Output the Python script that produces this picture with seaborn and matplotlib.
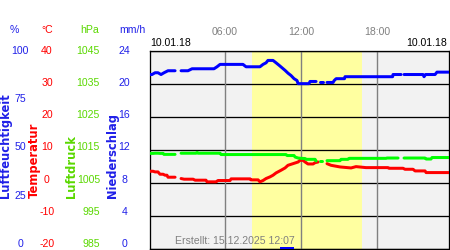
import numpy as np
import pandas as pd
import matplotlib
matplotlib.use("Agg")
import matplotlib.pyplot as plt
import seaborn as sns

# ---------------- data ----------------
nan = np.nan
hum_t = [0.10, 0.26, 0.50, 0.73, 0.97, 1.21, 1.52, 2.08, 2.30, 2.55, 3.10, 3.42, 4.05, 4.68, 5.15,
         5.39, 5.63, 6.42, 7.44, 7.68, 8.39, 8.78, 9.02, 9.26, 9.41, 9.81, 10.05, 10.28, 10.52,
         10.76, 10.99, 11.23, 11.47, 11.70, 11.79, 12.65, 12.73, 13.21, 13.35, 13.52, 13.76, 13.90,
         14.07, 14.55, 14.63, 14.79, 15.45, 15.49, 19.25, 19.28, 19.92, 20.05, 20.15, 21.65, 21.73,
         21.85, 22.60, 22.75, 23.70]
hum_v = [87.9, 87.9, 88.8, 88.8, 87.9, 88.8, 89.8, 89.8, nan, 89.8, 89.8, 90.8, 90.8, 90.8, 90.8,
         91.8, 93.0, 93.0, 93.0, 91.8, 91.8, 91.8, 93.0, 93.8, 95.0, 95.0, 93.8, 92.6, 91.3,
         90.0, 88.6, 87.4, 85.8, 84.9, 83.3, 83.3, 84.4, 84.4, nan, 83.9, 83.9, nan,
         83.9, 83.9, 84.8, 85.8, 85.8, 86.8, 86.8, 87.9, 87.9, nan, 87.9, 87.9, 86.8,
         87.9, 87.9, 89.1, 89.1]

temp_t = [0.10, 0.34, 0.50, 0.73, 0.89, 1.13, 1.29, 1.44, 1.52, 2.08, 2.30, 2.55, 2.79, 3.50, 3.66,
          4.52, 4.60, 5.31, 5.47, 6.42, 6.50, 8.00, 8.07, 8.63, 8.78, 9.02, 9.26, 9.57, 9.81, 10.05,
          10.44, 10.76, 10.99, 11.39, 11.79, 11.94, 12.18, 12.34, 12.57, 12.97, 13.13, 13.37, 13.70,
          14.07, 14.39, 15.10, 15.97, 16.36, 17.15, 18.89, 18.96, 20.07, 20.23, 20.86, 21.02, 21.81,
          21.89, 23.70]
temp_v = [3.5, 3.5, 3.3, 3.3, 2.6, 2.6, 2.3, 2.3, 1.7, 1.7, nan, 1.3, 1.1, 1.1, 0.8,
          0.8, 0.3, 0.3, 0.7, 0.7, 1.2, 1.2, 0.9, 0.9, 0.3, 0.7, 1.3, 1.8, 2.3, 3.0,
          3.8, 4.5, 5.3, 5.8, 6.3, 6.8, 6.8, 6.3, 5.7, 5.7, 6.1, 6.3, nan,
          5.8, 5.3, 4.8, 4.5, 4.9, 4.6, 4.6, 4.4, 4.4, 4.1, 4.1, 3.6, 3.6,
          3.1, 3.1]

pres_t = [0.10, 0.34, 0.50, 0.73, 0.89, 1.13, 1.20, 2.08, 2.30, 2.55, 3.74, 3.82, 3.90, 5.63, 5.71,
          10.84, 10.92, 11.47, 11.55, 11.79, 12.03, 12.34, 12.42, 13.13, 13.21, 13.40, 13.52, 13.68,
          13.85, 14.07, 15.10, 15.18, 15.73, 15.81, 18.73, 18.81, 19.68, 19.90, 20.15, 21.81, 21.89,
          22.28, 22.36, 23.70]
pres_v = [1013.9, 1013.9, 1013.95, 1013.95, 1013.9, 1013.9, 1013.6, 1013.6, nan, 1013.95, 1013.95,
          1014.2, 1013.95, 1013.95, 1013.55, 1013.55, 1013.25, 1013.25, 1012.8, 1012.5, 1012.4,
          1012.35, 1012.1, 1012.1, 1011.6, nan, 1011.6, 1011.6, nan, 1011.7, 1011.7, 1012.1,
          1012.1, 1012.4, 1012.4, 1012.5, 1012.5, nan, 1012.5, 1012.5, 1012.2, 1012.2, 1012.65,
          1012.65]

prec_t = [10.95]
prec_v = [0.2]

daylight = (8.15, 16.8)
time_ticks = [6, 12, 18]
time_labels = ["06:00", "12:00", "18:00"]
hum_ticks = [0, 25, 50, 75, 100]
temp_ticks = [-20, -10, 0, 10, 20, 30, 40]
pres_ticks = [985, 995, 1005, 1015, 1025, 1035, 1045]
prec_ticks = [0, 4, 8, 12, 16, 20, 24]
date_label = "10.01.18"
created = "Erstellt: 15.12.2025 12:07"


def frame(t, v):
    df = pd.DataFrame({"t": t, "v": v})
    df["seg"] = df["v"].isna().cumsum()
    return df.dropna()


BLUE = "#0000ff"
RED = "#ff0000"
GREEN = "#00ff00"
TXT_BLUE = "#2020e8"
TXT_GREEN = "#5ad800"
GRAY = "#808080"
PX = 0.72  # points per pixel at dpi 100

sns.set_style("white")
plt.rcParams["font.family"] = ["Liberation Sans", "DejaVu Sans"]
plt.rcParams["axes.unicode_minus"] = False
FS = 7.6

fig = plt.figure(figsize=(4.5, 2.5), dpi=100)
ax = fig.add_axes([150 / 450, 1 / 250, 299 / 450, 198.5 / 250])
ax.set_facecolor("#f2f2f2")
ax.axvspan(*daylight, color="#ffffa0", zorder=0, lw=0)
ax.set_xlim(0.1, 23.7)
ax.set_ylim(-20, 40)
ax.set_yticks(temp_ticks)
ax.grid(axis="y", color="black", lw=1.3 * PX)
for xv in time_ticks:
    ax.axvline(xv, color=GRAY, lw=1.4 * PX, zorder=1)
ax.set_xticks(time_ticks, time_labels)
ax.xaxis.set_ticks_position("top")
ax.tick_params(axis="x", length=0, pad=10, labelsize=FS, labelcolor=GRAY)
ax.tick_params(axis="y", length=0, labelleft=False)
for s in ax.spines.values():
    s.set_color("black")
    s.set_linewidth(1.3 * PX)

axh = ax.twinx()
axh.set_ylim(0, 100)
axp = ax.twinx()
axp.set_ylim(985, 1045)
axr = ax.twinx()
axr.set_ylim(0, 24)
for a in (axh, axp, axr):
    for s in a.spines.values():
        s.set_visible(False)
    a.set_xlim(0.1, 23.7)
    a.set_yticks([])

axr.bar(prec_t, prec_v, width=1.1, color=BLUE, lw=0)

lw = 3 * PX
sns.lineplot(data=frame(pres_t, pres_v), x="t", y="v", units="seg", estimator=None,
             color=GREEN, lw=lw, ax=axp, sort=False)
sns.lineplot(data=frame(temp_t, temp_v), x="t", y="v", units="seg", estimator=None,
             color=RED, lw=lw, ax=ax, sort=False, zorder=3)
sns.lineplot(data=frame(hum_t, hum_v), x="t", y="v", units="seg", estimator=None,
             color=BLUE, lw=lw, ax=axh, sort=False)
for a in (ax, axh, axp, axr):
    a.set_xlabel("")
    a.set_ylabel("")
ax.set_xlim(0.1, 23.7)


# scale labels, laid out in the reference's slightly compressed column
def label_y(v, lo, hi):
    frac = (v - lo) / (hi - lo)
    return 1 - (50.7 + (1 - frac) * 193.3) / 250


for ticks, lo, hi, xc, ha, col in [
    (hum_ticks, 0, 100, 20, "center", TXT_BLUE),
    (temp_ticks, -20, 40, 47, "center", RED),
    (pres_ticks, 985, 1045, 100, "right", TXT_GREEN),
    (prec_ticks, 0, 24, 124.5, "center", TXT_BLUE),
]:
    for v in ticks:
        fig.text(xc / 450, label_y(v, lo, hi), f"{v}", color=col, fontsize=FS,
                 ha=ha, va="center")

# headers
hy = 1 - 30 / 250
fig.text(14 / 450, hy, "%", color=TXT_BLUE, fontsize=FS, ha="center", va="center")
fig.text(47 / 450, hy, "°C", color=RED, fontsize=FS, ha="center", va="center")
fig.text(90 / 450, hy, "hPa", color=TXT_GREEN, fontsize=FS, ha="center", va="center")
fig.text(132 / 450, hy, "mm/h", color=TXT_BLUE, fontsize=FS, ha="center", va="center")

# rotated axis titles
by = 1 - 198 / 250
for xp, txt, col in [(6, "Luftfeuchtigkeit", TXT_BLUE), (34.5, "Temperatur", RED),
                     (72, "Luftdruck", TXT_GREEN), (113, "Niederschlag", TXT_BLUE)]:
    fig.text(xp / 450, by, txt, color=col, rotation=90, ha="center", va="bottom",
             fontsize=8.3, fontweight="bold", family="DejaVu Sans")

# dates
dy = 1 - 43 / 250
fig.text(150.5 / 450, dy, date_label, color="black", fontsize=FS, ha="left", va="center")
fig.text(447 / 450, dy, date_label, color="black", fontsize=FS, ha="right", va="center")

# created
fig.text(175 / 450, 1 - 241.5 / 250, created, color=GRAY, fontsize=FS, ha="left", va="center")

fig.savefig("out.png", dpi=100)
